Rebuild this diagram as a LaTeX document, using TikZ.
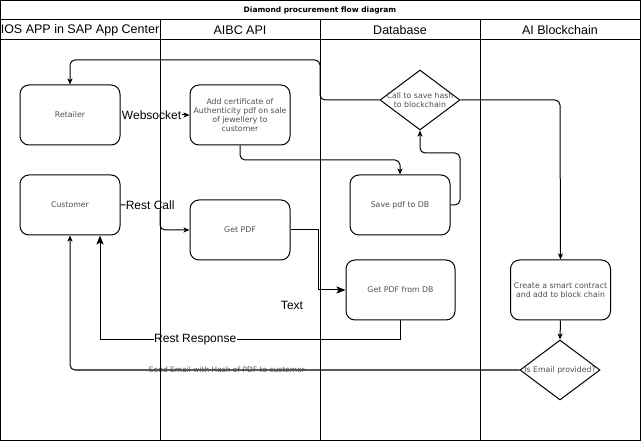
\documentclass[tikz,border=0pt]{standalone}
\usepackage{fontspec}
\setmainfont{Liberation Sans}
\newfontfamily\dejavu{DejaVu Sans}
\usetikzlibrary{arrows.meta,shapes.geometric}
\definecolor{nodetext}{RGB}{80,80,80}
\begin{document}
\begin{tikzpicture}[x=1pt,y=-1pt,line width=1pt,
  box/.style={draw, rounded corners=9pt, minimum width=100pt, minimum height=60pt,
    font=\dejavu\fontsize{7.8}{9}\selectfont, text=nodetext, align=center, inner sep=1pt},
  dia/.style={draw, diamond, minimum width=80pt, minimum height=60pt, inner sep=0pt},
  dtext/.style={font=\dejavu\fontsize{7.8}{9}\selectfont, text=nodetext, align=center, inner sep=0pt},
  hdr/.style={font=\fontsize{12.5}{14}\selectfont},
  lbl/.style={font=\fontsize{12}{14}\selectfont, fill=white, inner sep=0.5pt},
  elbl/.style={font=\dejavu\fontsize{7.5}{9}\selectfont, text=nodetext, inner sep=0pt},
  arr/.style={-{Stealth[length=6pt,width=5pt,inset=1.5pt]}},
  arrbig/.style={-{Stealth[length=9pt,width=7pt,inset=2pt]}},
  rc/.style={rounded corners=5pt}]
\useasboundingbox (0,0) rectangle (641,441);
\fill[white] (0,0) rectangle (641,441);

% title
\node[font=\dejavu\bfseries\fontsize{7.5}{9}\selectfont] (title) at (320,10) {Diamond procurement flow diagram};
% headers
\node[hdr] (h1) at (80,30) {IOS APP in SAP App Center};
\node[hdr] (h2) at (240,30) {AIBC API};
\node[hdr] (h3) at (400,30) {Database};
\node[hdr] (h4) at (560,30) {AI Blockchain};

% nodes
\node[box] (retailer) at (70,115) {Retailer};
\node[box] (cert) at (240,115) {Add certificate of\\Authenticity pdf on sale\\of jewellery to\\customer};
\node[box] (customer) at (70,205) {Customer};
\node[box] (getpdf) at (240,230) {Get PDF};
\node[box] (savepdf) at (400,205) {Save pdf to DB};
\node[box, minimum width=109pt] (getdb) at (400.5,290) {Get PDF from DB};
\node[box] (contract) at (560.5,290) {Create a smart contract\\and add to block chain};
\node[dia] (hash) at (420,100) {};
\node[dtext] (hashtxt) at (hash.center) {Call to save hash\\to blockchain};
\node[dia] (email) at (560,370) {};
\node[dtext] (emailtxt) at (email.center) {Is Email provided?};

\node[font=\fontsize{12}{14}\selectfont] (freetext) at (292,305) {Text};

% connectors
\draw[arr] (retailer.east) -- node[lbl, pos=0.45]{Websocket} (cert.west);
\draw[arr, rc] (hash.west) -- (320,100) -- (320,60) -- (70,60) -- (retailer.north);
\draw[arr, rc] (hash.east) -- (560,100) -- (contract.north);
\draw[arr, rc] (cert.south) -- (240,160) -- (400,160) -- (savepdf.north);
\draw[arr, rc] (savepdf.east) -- (460,205) -- (460,153) -- (420,153) -- (hash.south);
\draw[arr, rc] (customer.east) -- node[lbl, pos=0.75]{Rest Call} (160,205) -- (160,230) -- (getpdf.west);
\draw[arrbig] (getpdf.east) -- (318,230) -- (318,290) -- (getdb.west);
\draw[arrbig] (getdb.south) -- (400.5,340) -- node[lbl, pos=0.683]{Rest Response} (100,340) -- ([xshift=30pt]customer.south);
\draw[arr, rc] (email.west) -- node[elbl, pos=0.651]{Send Email with Hash of PDF to customer} (70,370) -- (customer.south);
\draw[arr] (contract.south) -- (email.north);

% lanes (drawn on top)
\draw (0.5,0.5) rectangle (640.5,440.5);
\draw (0.5,20) -- (640.5,20);
\draw (0.5,40) -- (640.5,40);
\draw (160,20) -- (160,440.5);
\draw (320,20) -- (320,440.5);
\draw (480,20) -- (480,440.5);
\end{tikzpicture}
\end{document}
